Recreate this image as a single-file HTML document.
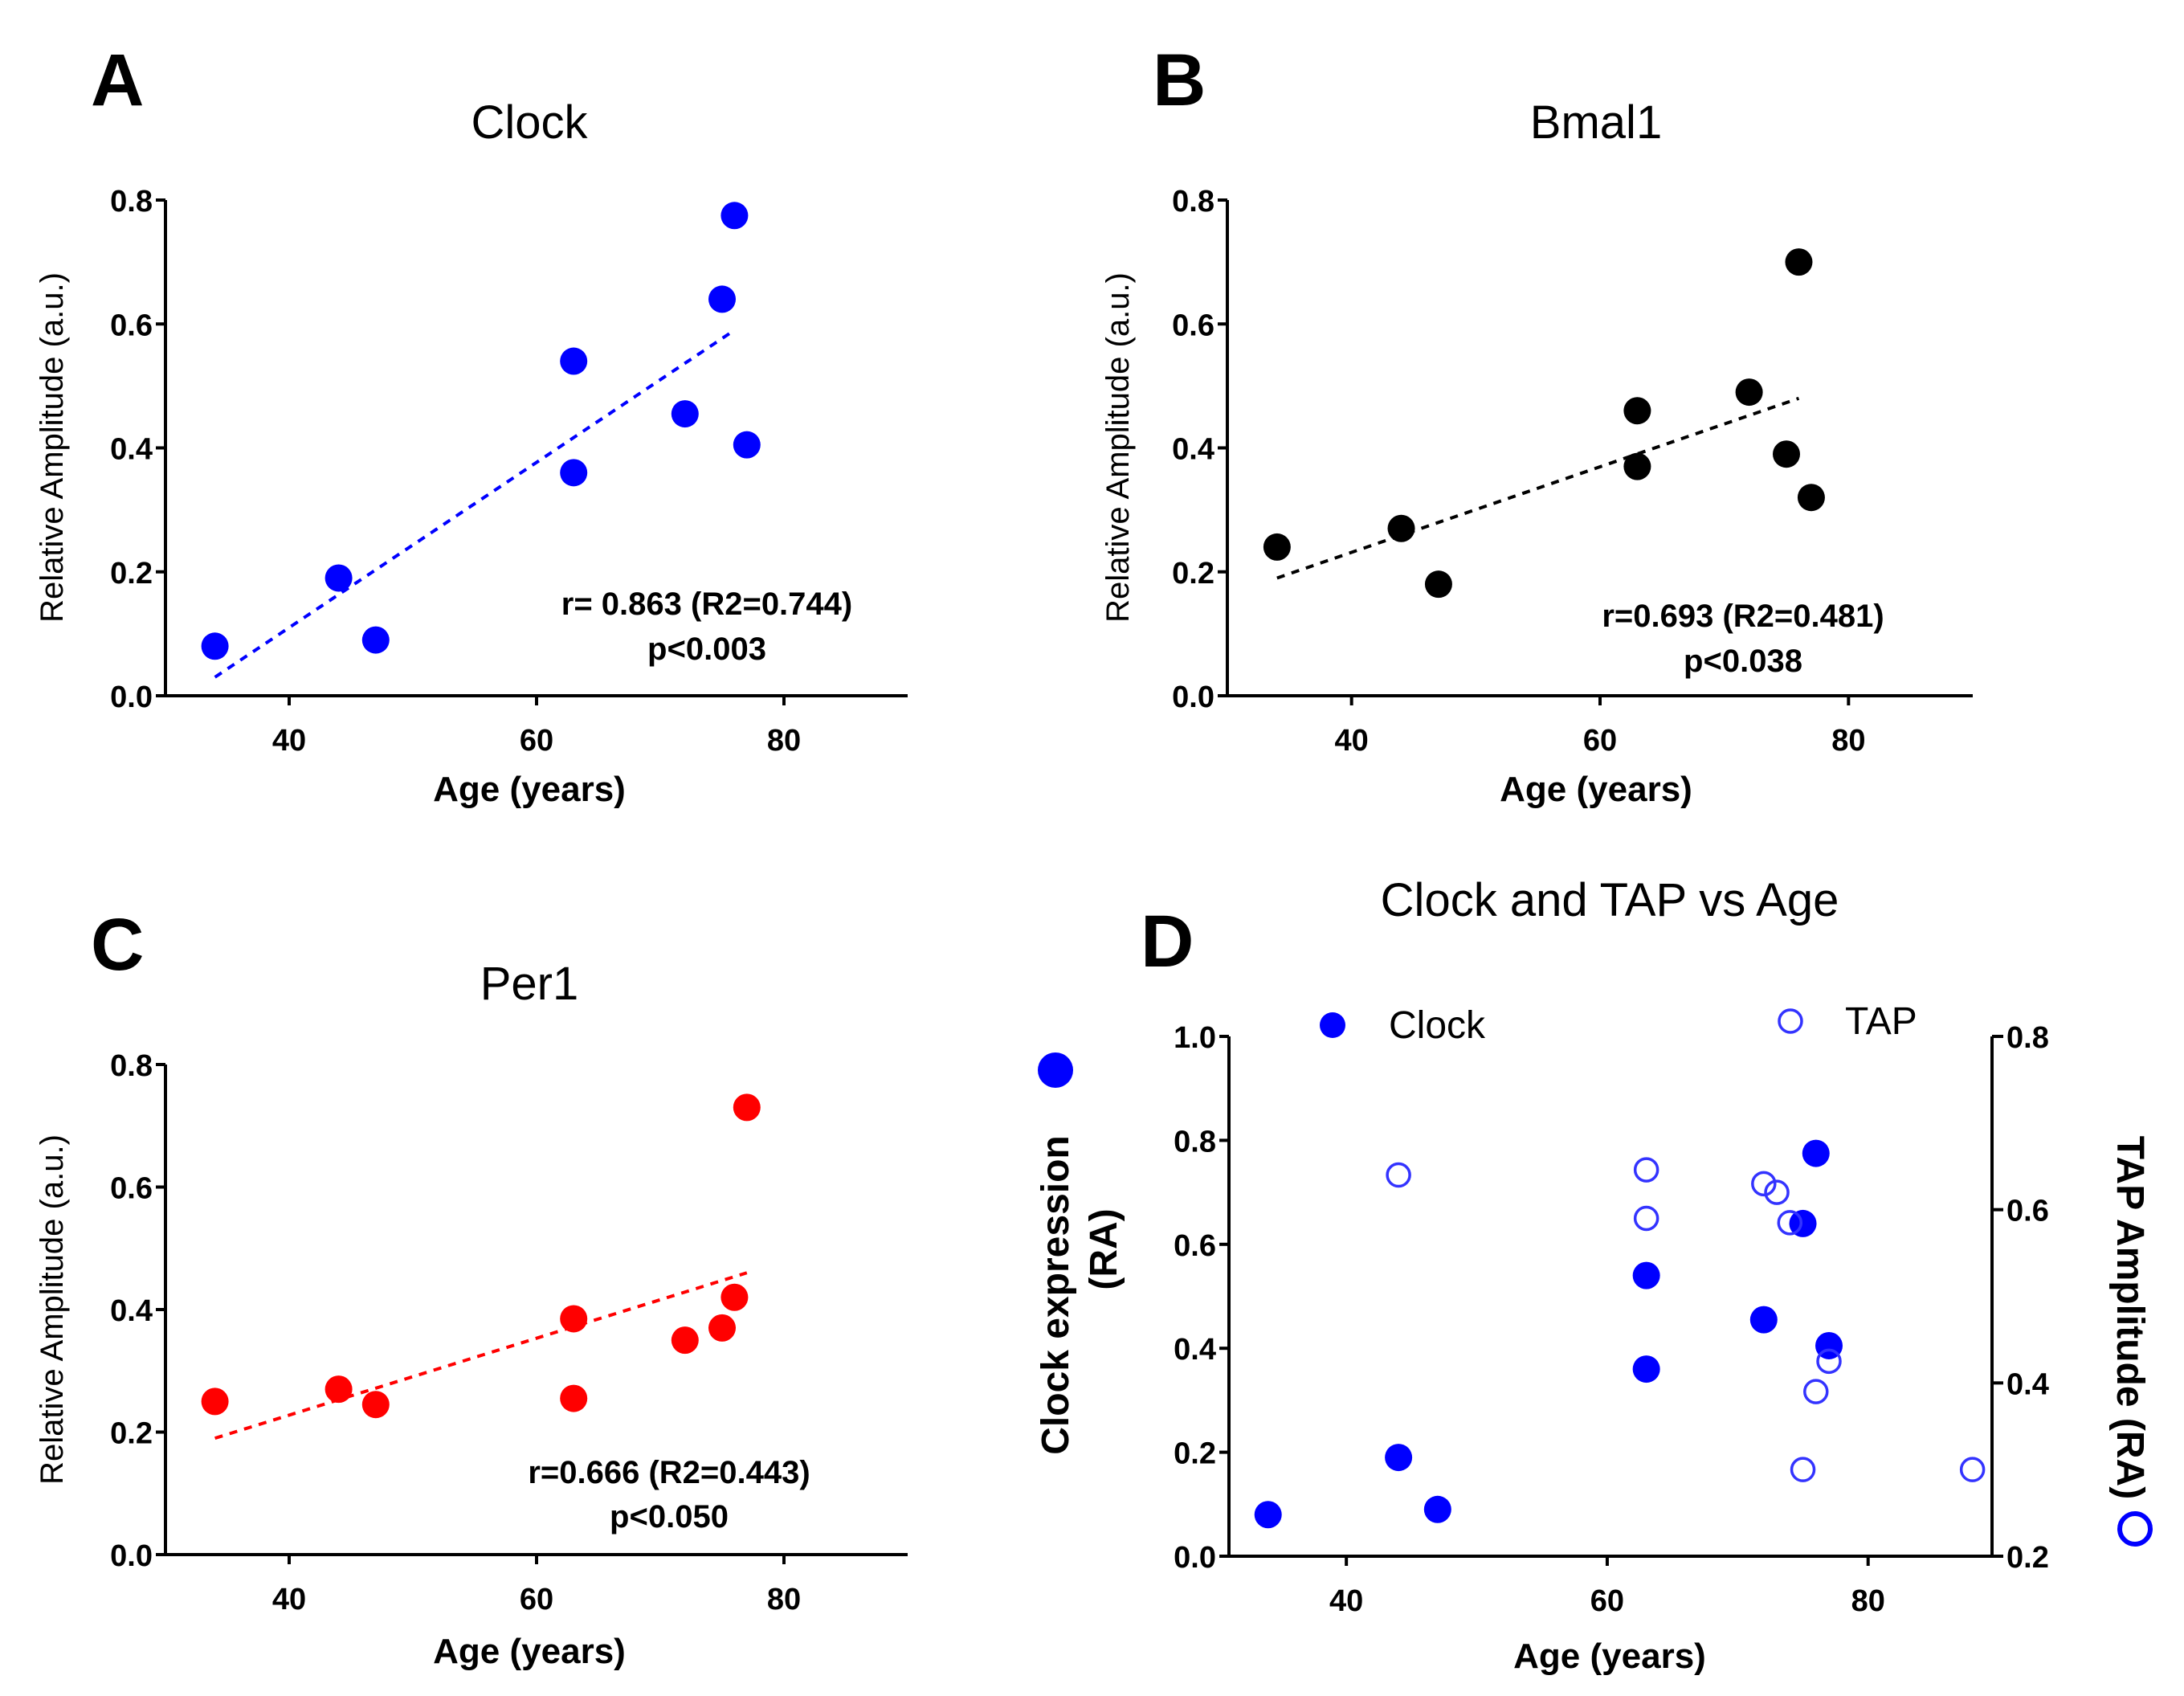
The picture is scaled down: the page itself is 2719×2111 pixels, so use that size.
<!DOCTYPE html>
<html><head><meta charset="utf-8"><style>
html,body{margin:0;padding:0;background:#fff;}
svg{display:block;font-family:"Liberation Sans",Arial,sans-serif;}
</style></head><body>
<svg id="fig" width="2719" height="2111" viewBox="0 0 2719 2111" xmlns="http://www.w3.org/2000/svg"></svg>
<script>
const ages = [34,44,47,63,63,72,75,76,77];
const clockVals = [0.08,0.19,0.09,0.54,0.36,0.455,0.64,0.775,0.405];
const bmalVals = [0.24,0.27,0.18,0.46,0.37,0.49,0.39,0.70,0.32];
const per1Vals = [0.25,0.27,0.245,0.385,0.255,0.35,0.37,0.42,0.73];
const tapAges = [44,63,63,72,73,74,77,76,75,88];
const tapVals = [0.64,0.646,0.59,0.63,0.62,0.585,0.425,0.39,0.30,0.30];
const clockFitX = [34,76];
const clockFitY = [0.03,0.59];
const bmalFitX = [34,76];
const bmalFitY = [0.19,0.48];
const per1FitX = [34,77];
const per1FitY = [0.19,0.46];
const xTicks = [40,60,80];
const yTicks08 = [0,0.2,0.4,0.6,0.8];
const yTicks10 = [0,0.2,0.4,0.6,0.8,1.0];
const yTicksRight = [0.2,0.4,0.6,0.8];

const svg = document.getElementById('fig');
const NS = 'http://www.w3.org/2000/svg';
function mk(tag, attrs, parent){
  const e = document.createElementNS(NS, tag);
  for (const k in attrs) e.setAttribute(k, attrs[k]);
  (parent||svg).appendChild(e);
  return e;
}
function txt(s, x, y, size, opts, name){
  opts = opts||{};
  const e = mk('text', {x:x, y:y, 'font-size':size, 'text-anchor':opts.anchor||'middle', 'font-weight':opts.weight||'normal', fill:opts.fill||'#000'});
  if (opts.rot) e.setAttribute('transform', 'rotate(' + opts.rot + ' ' + x + ' ' + y + ')');
  e.textContent = s;
  
  
  return e;
}
function scale(d0,d1,r0,r1){ return v => r0 + (v-d0)/(d1-d0)*(r1-r0); }

function panel(p){
  const g = mk('g', {});
  
  
  const sx = scale(p.xmin, p.xmax, p.L, p.R);
  const sy = scale(0, p.ymax, p.B, p.T);
  const ya = mk('line', {x1:p.L, y1:p.T, x2:p.L, y2:p.B, stroke:'#000', 'stroke-width':4}, g);
  
  
  const xa = mk('line', {x1:p.L-2, y1:p.B, x2:p.R, y2:p.B, stroke:'#000', 'stroke-width':4}, g);
  
  
  p.yTicks.forEach(t => {
    const y = sy(t);
    mk('line', {x1:p.L-12, y1:y, x2:p.L, y2:y, stroke:'#000', 'stroke-width':4}, g);
    txt(t.toFixed(1), p.L-16, y+14, 38, {anchor:'end', weight:'bold'}, 'y-tick-label');
  });
  xTicks.forEach(t => {
    const x = sx(t);
    mk('line', {x1:x, y1:p.B, x2:x, y2:p.B+12, stroke:'#000', 'stroke-width':4}, g);
    txt(String(t), x, p.B+68, 38, {weight:'bold'}, 'x-tick-label');
  });
  if (p.fitX){
    const fl = mk('line', {x1:sx(p.fitX[0]), y1:sy(p.fitY[0]), x2:sx(p.fitX[1]), y2:sy(p.fitY[1]), stroke:p.color, 'stroke-width':4, 'stroke-dasharray':'10 9'}, g);
    
    
  }
  p.xs.forEach((a,i) => {
    const c = mk('circle', {cx:sx(a), cy:sy(p.ys[i]), r:17, fill:p.color}, g);
    
    
  });
  return {sx, sy};
}

panel({name:'panel-a-clock', L:206, R:1130, T:249, B:866, xmin:30, xmax:90, ymax:0.8, yTicks:yTicks08, xs:ages, ys:clockVals, color:'#0000ff', fitX:clockFitX, fitY:clockFitY});
txt('A', 113, 131, 92, {weight:'bold', anchor:'start'}, 'panel-label-a');
txt('Clock', 659, 172, 58, {}, 'chart-title-clock');
txt('Relative Amplitude (a.u.)', 78, 557, 40, {rot:-90}, 'y-axis-title');
txt('Age (years)', 659, 997, 44, {weight:'bold'}, 'x-axis-title');
txt('r= 0.863 (R2=0.744)', 880, 765, 40, {weight:'bold'}, 'stat-r');
txt('p<0.003', 880, 821, 40, {weight:'bold'}, 'stat-p');

panel({name:'panel-b-bmal1', L:1528, R:2456, T:249, B:866, xmin:30, xmax:90, ymax:0.8, yTicks:yTicks08, xs:ages, ys:bmalVals, color:'#000', fitX:bmalFitX, fitY:bmalFitY});
txt('B', 1435, 131, 92, {weight:'bold', anchor:'start'}, 'panel-label-b');
txt('Bmal1', 1987, 172, 58, {}, 'chart-title-bmal1');
txt('Relative Amplitude (a.u.)', 1405, 557, 40, {rot:-90}, 'y-axis-title');
txt('Age (years)', 1987, 997, 44, {weight:'bold'}, 'x-axis-title');
txt('r=0.693 (R2=0.481)', 2170, 780, 40, {weight:'bold'}, 'stat-r');
txt('p<0.038', 2170, 836, 40, {weight:'bold'}, 'stat-p');

panel({name:'panel-c-per1', L:206, R:1130, T:1325, B:1935, xmin:30, xmax:90, ymax:0.8, yTicks:yTicks08, xs:ages, ys:per1Vals, color:'#ff0000', fitX:per1FitX, fitY:per1FitY});
txt('C', 113, 1207, 92, {weight:'bold', anchor:'start'}, 'panel-label-c');
txt('Per1', 659, 1244, 58, {}, 'chart-title-per1');
txt('Relative Amplitude (a.u.)', 78, 1630, 40, {rot:-90}, 'y-axis-title');
txt('Age (years)', 659, 2070, 44, {weight:'bold'}, 'x-axis-title');
txt('r=0.666 (R2=0.443)', 833, 1846, 40, {weight:'bold'}, 'stat-r');
txt('p<0.050', 833, 1901, 40, {weight:'bold'}, 'stat-p');

const D = panel({name:'panel-d-clock-tap', L:1530, R:2480, T:1290, B:1937, xmin:31, xmax:89.5, ymax:1.0, yTicks:yTicks10, xs:ages, ys:clockVals, color:'#0000ff'});
const syR = scale(0.2, 0.8, 1937, 1290);
const ra = mk('line', {x1:2480, y1:1290, x2:2480, y2:1937, stroke:'#000', 'stroke-width':4});


yTicksRight.forEach(t => {
  const y = syR(t);
  mk('line', {x1:2480, y1:y, x2:2494, y2:y, stroke:'#000', 'stroke-width':4});
  txt(t.toFixed(1), 2498, y+14, 38, {anchor:'start', weight:'bold'}, 'right-y-tick-label');
});
tapAges.forEach((a,i) => {
  const c = mk('circle', {cx:D.sx(a), cy:syR(tapVals[i]), r:14, fill:'none', stroke:'#3333ff', 'stroke-width':3.5});
  
  
});
txt('D', 1420, 1203, 92, {weight:'bold', anchor:'start'}, 'panel-label-d');
txt('Clock and TAP vs Age', 2004, 1140, 58, {}, 'chart-title-clock-tap');
const l1 = mk('circle', {cx:1659, cy:1276, r:16, fill:'#0000ff'});


txt('Clock', 1729, 1292, 48, {anchor:'start'}, 'legend-clock-label');
const l2 = mk('circle', {cx:2229, cy:1271, r:14, fill:'none', stroke:'#3333ff', 'stroke-width':3.5});


txt('TAP', 2297, 1287, 48, {anchor:'start'}, 'legend-tap-label');
txt('Clock expression', 1330, 1612, 48, {rot:-90, weight:'bold'}, 'left-y-axis-title');
txt('(RA)', 1390, 1555, 48, {rot:-90, weight:'bold'}, 'left-y-axis-title-unit');
const bd = mk('circle', {cx:1314, cy:1332, r:22, fill:'#0000ff'});


txt('TAP Amplitude (RA)', 2636, 1640, 48, {rot:90, weight:'bold'}, 'right-y-axis-title');
const bh = mk('circle', {cx:2658, cy:1903, r:19, fill:'none', stroke:'#0000ff', 'stroke-width':6});


txt('Age (years)', 2004, 2076, 44, {weight:'bold'}, 'x-axis-title');
</script>
</body></html>
